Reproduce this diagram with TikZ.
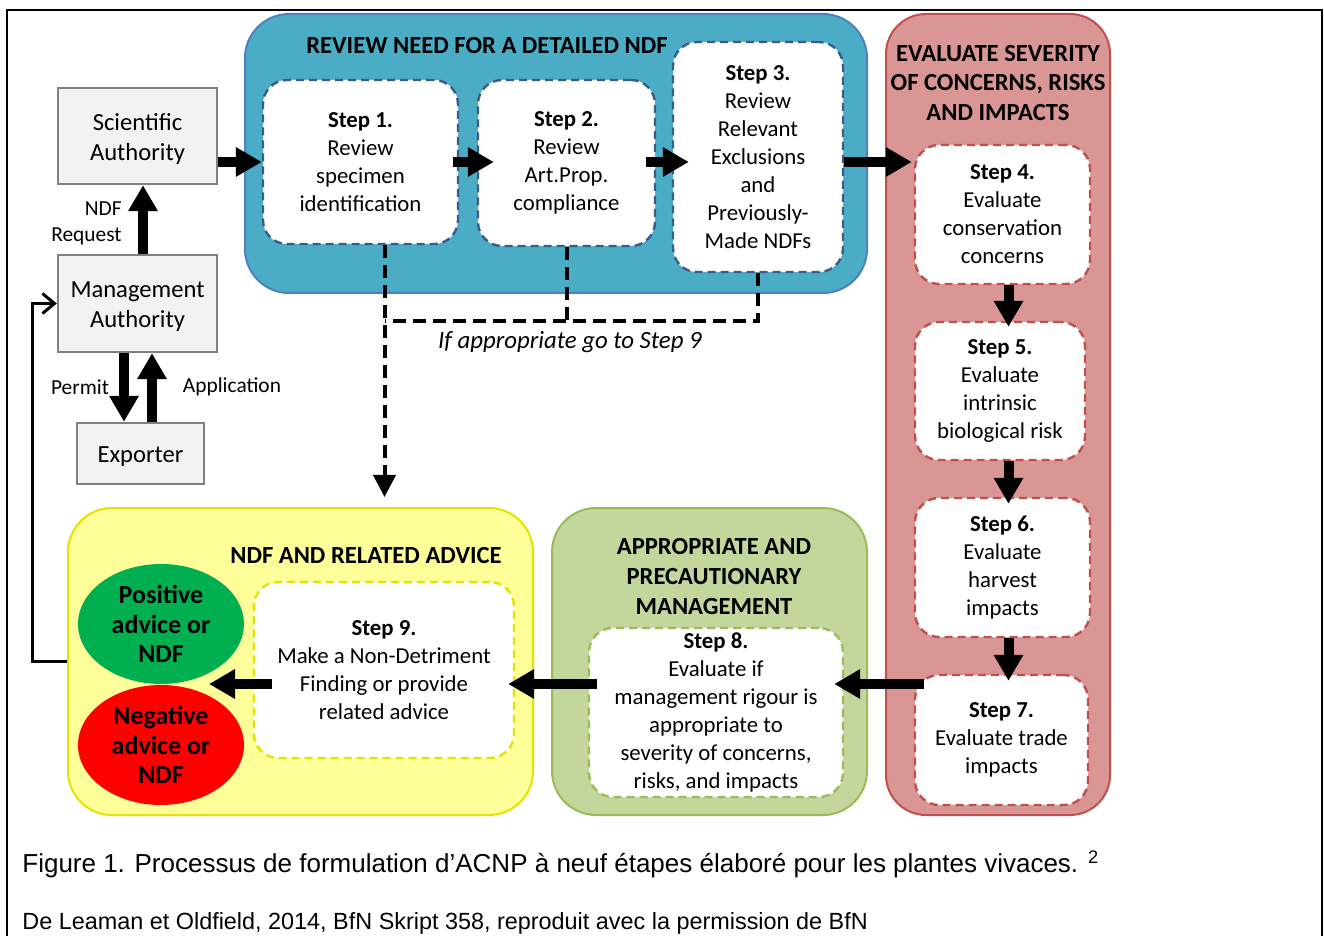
\documentclass[tikz,border=0pt]{standalone}
\usepackage{fontspec}
\setmainfont{Carlito}
\newfontfamily\capfont{Liberation Sans}
\usetikzlibrary{arrows.meta,shapes.geometric}

\definecolor{bluefill}{HTML}{4BACC6}
\definecolor{blueline}{HTML}{4F81BD}
\definecolor{bluedash}{HTML}{385D8A}
\definecolor{redfill}{HTML}{D99694}
\definecolor{redline}{HTML}{C0504D}
\definecolor{greenfill}{HTML}{C3D69B}
\definecolor{greenline}{HTML}{9BBB59}
\definecolor{yellowfill}{HTML}{FFFF99}
\definecolor{yellowline}{HTML}{E3E300}
\definecolor{authfill}{HTML}{F2F2F2}
\definecolor{authline}{HTML}{808080}
\definecolor{posgreen}{HTML}{00B050}
\definecolor{negred}{HTML}{FF0000}

\newcommand{\authtext}[1]{\raisebox{-1.75pt}[\height][\depth]{\begin{tabular}{@{}c@{}}#1\end{tabular}}}

\begin{document}
\begin{tikzpicture}
    [
        x=0.5pt, y=-0.5pt,
        panel/.style={rounded corners=22pt, line width=1pt, inner sep=0pt},
        stepbox/.style={draw, fill=white, dash pattern=on 4pt off 2.5pt, rounded corners=12pt,
            line width=1.2pt, align=center, inner sep=0pt, font=\fontsize{11.4}{14}\selectfont},
        heading/.style={font=\bfseries\fontsize{12.3}{14.7}\selectfont, align=center, inner sep=0pt},
        authority/.style={draw=authline, fill=authfill, line width=1.2pt,
            inner sep=0pt, font=\fontsize{12.3}{15}\selectfont},
        outcome/.style={ellipse, minimum width=83pt, minimum height=60pt, inner sep=0pt,
            align=center, font=\bfseries\fontsize{13}{14.8}\selectfont},
        note/.style={font=\fontsize{10.7}{13}\selectfont, align=center, inner sep=0pt},
        flow/.style={-{Triangle[width=14pt,length=13pt]}, line width=5pt},
        skipline/.style={line width=2pt, dash pattern=on 6.5pt off 3.5pt},
        shortcut/.style={skipline, -{Triangle[width=11pt,length=11pt]}},
        feedback/.style={-{Straight Barb[length=6pt,width=10pt]}, line width=1.5pt},
    ]
    \useasboundingbox (0,0) rectangle (1324,936);

    % outer frame
    \draw [line width=1.2pt] (7,950) |- (1322,10) -- (1322,950);

    % group panels
    \node (blue) at (556,153.5)  [panel, draw=blueline, fill=bluefill, minimum width=311pt, minimum height=139.5pt] {};
    \node (red)  at (998,414.5)  [panel, rounded corners=20pt, draw=redline, fill=redfill, minimum width=112pt, minimum height=400.5pt] {};
    \node (grn)  at (709.5,661.5) [panel, draw=greenline, fill=greenfill, minimum width=157.5pt, minimum height=153.5pt] {};
    \node (yel)  at (300.5,661.5) [panel, draw=yellowline, fill=yellowfill, minimum width=232.5pt, minimum height=153.5pt] {};

    \node (t1) at (487,46)  [heading] {REVIEW NEED FOR A DETAILED NDF};
    \node (t2) at (998,83)  [heading] {EVALUATE SEVERITY\\OF CONCERNS, RISKS\\AND IMPACTS};
    \node (t3) at (714,577) [heading, font=\bfseries\fontsize{12.3}{15}\selectfont] {APPROPRIATE AND\\PRECAUTIONARY\\MANAGEMENT};
    \node (t4) at (366,556) [heading] {NDF AND RELATED ADVICE};

    % authorities
    \node (sa) at (137.5,136)   [authority, minimum width=79.5pt, minimum height=48pt] {\authtext{Scientific\\Authority}};
    \node (ma) at (137.5,303.5) [authority, minimum width=79.5pt, minimum height=48.5pt] {\authtext{Management\\Authority}};
    \node (ex) at (140.5,453.5) [authority, minimum width=63.5pt, minimum height=30.5pt] {\authtext{Exporter}};

    % steps
    \node (s1) at (360.5,162)    [stepbox, draw=bluedash, minimum width=97.5pt, minimum height=82pt] {\textbf{Step 1.}\\Review\\specimen\\identification};
    \node (s2) at (566.5,163)    [stepbox, draw=bluedash, minimum width=88.5pt, minimum height=83pt] {\textbf{Step 2.}\\Review\\Art.Prop.\\compliance};
    \node (s3) at (758,157)      [stepbox, draw=bluedash, minimum width=85pt, minimum height=115pt] {\textbf{Step 3.}\\Review\\Relevant\\Exclusions\\and\\Previously-\\Made NDFs};
    \node (s4) at (1002.5,214.5) [stepbox, draw=redline, minimum width=87.5pt, minimum height=69.5pt] {\textbf{Step 4.}\\Evaluate\\conservation\\concerns};
    \node (s5) at (1000,391)     [stepbox, draw=redline, minimum width=85pt, minimum height=69pt] {\textbf{Step 5.}\\Evaluate\\intrinsic\\biological risk};
    \node (s6) at (1002.5,567.5) [stepbox, draw=redline, minimum width=87.5pt, minimum height=69.5pt] {\textbf{Step 6.}\\Evaluate\\harvest\\impacts};
    \node (s7) at (1001.5,740)   [stepbox, draw=redline, minimum width=86.5pt, minimum height=65pt] {\textbf{Step 7.}\\Evaluate trade\\impacts};
    \node (s8) at (716,712.5)    [stepbox, draw=greenline, minimum width=127pt, minimum height=84.5pt] {\textbf{Step 8.}\\Evaluate if\\management rigour is\\appropriate to\\severity of concerns,\\risks, and impacts};
    \node (s9) at (384,670)      [stepbox, draw=yellowline, minimum width=130pt, minimum height=88pt] {\textbf{Step 9.}\\Make a Non-Detriment\\Finding or provide\\related advice};

    \node (pos) at (161,624) [outcome, fill=posgreen] {Positive\\advice or\\NDF};
    \node (neg) at (161,745) [outcome, fill=negred] {Negative\\advice or\\NDF};

    \coordinate (lane) at (0,684);
    \coordinate (meet) at (209,684);
    \coordinate (junc) at (384.5,321);
    \coordinate (drop) at (384.5,497);

    % main flow
    \draw [flow] (sa.east |- s1.east) -- (s1.west);
    \draw [flow] ([xshift=-3pt]s1.east) -- ([xshift=8.5pt]s2.west |- s1.east);
    \draw [flow] ([xshift=-5pt]s2.east |- s1.east) -- ([xshift=8.5pt]s3.west |- s1.east);
    \draw [flow] (s3.east |- s1.east) -- ([xshift=-1pt]s4.west |- s1.east);
    \draw [flow] ([xshift=3pt]s4.south) -- ([xshift=3pt,yshift=-3pt]s4.south |- s5.north);
    \draw [flow] ([xshift=3pt]s4.south |- s5.south) -- ([xshift=3pt,yshift=-3.5pt]s4.south |- s6.north);
    \draw [flow] ([xshift=3pt]s6.south) -- ([xshift=3pt,yshift=-3.5pt]s6.south |- s7.north);
    \draw [flow] ([xshift=5pt]s7.west |- lane) -- ([xshift=-5pt]s8.east |- lane);
    \draw [flow] ([xshift=4.5pt]s8.west |- lane) -- ([xshift=-3.5pt]s9.east |- lane);
    \draw [flow] ([xshift=9.5pt]s9.west |- lane) -- (meet);

    % shortcut to step 9
    \draw [skipline] (s3.south) |- (junc);
    \draw [skipline] (s2.south) -- (s2.south |- junc);
    \draw [shortcut] ([xshift=12pt]s1.south) -- (drop);
    \node (skipnote) at (570,342) [note, font=\itshape\fontsize{12.4}{14}\selectfont] {If appropriate go to Step 9};

    % authorities and exporter
    \draw [flow] ([xshift=2.75pt]ma.north) -- ([xshift=2.75pt]sa.south);
    \draw [flow] ([xshift=-6.75pt]ma.south) -- ([xshift=-6.75pt]ma.south |- ex.north);
    \draw [flow] ([xshift=7.25pt]ma.south |- ex.north) -- ([xshift=7.25pt]ma.south);
    \node (req) at (122,223) [note, anchor=east, align=right] {NDF\\Request};
    \node (perm) at (80,387) [note] {Permit};
    \node (appl) at (232,387) [note] {Application};

    \draw [feedback] (yel.west) -- ++(-35,0) |- (ma.west);

    % caption
    \node (cap) at (22,872) [anchor=base west, inner sep=0pt, font=\capfont\fontsize{13}{15}\selectfont]
        {Figure 1. Processus de formulation d’ACNP à neuf étapes élaboré pour les plantes vivaces. \textsuperscript{2}};
    \node (src) at (22,929) [anchor=base west, inner sep=0pt, font=\capfont\fontsize{11.7}{14}\selectfont]
        {De Leaman et Oldfield, 2014, BfN Skript 358, reproduit avec la permission de BfN};
\end{tikzpicture}
\end{document}
